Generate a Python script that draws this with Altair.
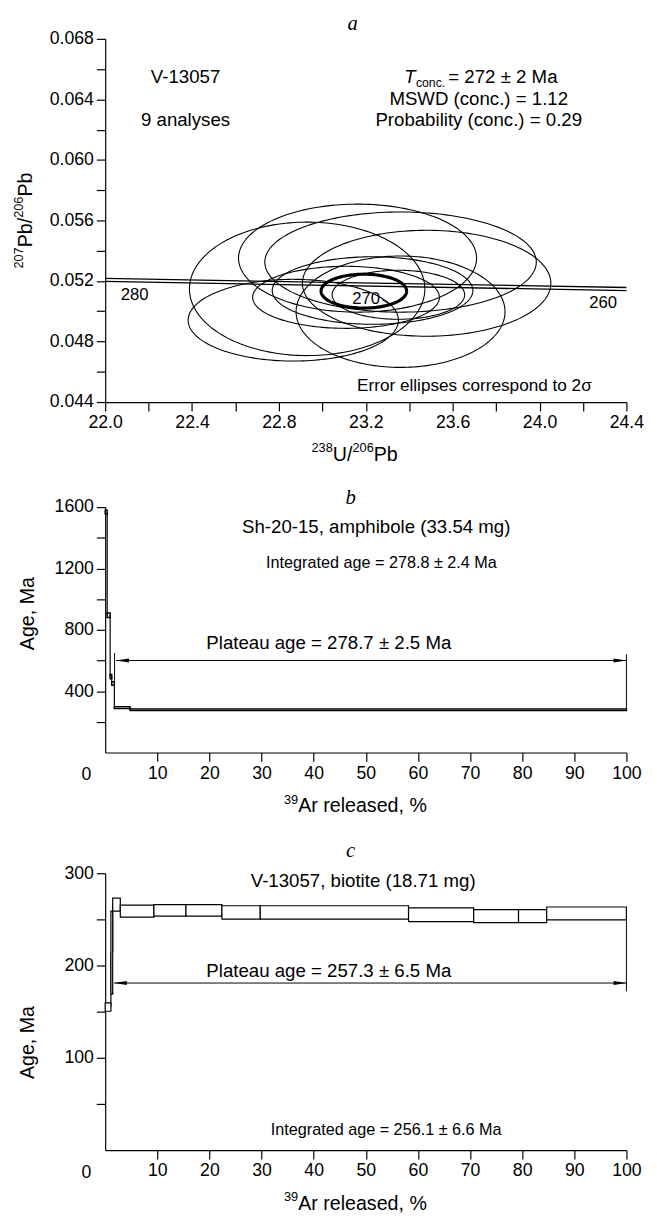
import altair as alt
import numpy as np
import pandas as pd

FONT = "Liberation Sans"
SERIF = "Liberation Serif"

# ---------------- Panel a : U-Pb Tera-Wasserburg concordia ----------------
ell_cx = [23.162, 23.360, 22.930, 23.480, 23.360, 22.866, 23.109, 23.231, 23.350]
ell_cy = [0.05351, 0.05325, 0.05148, 0.05185, 0.04997, 0.04941, 0.05092, 0.05137, 0.05109]
ell_ax = [0.548, 0.625, 0.542, 0.572, 0.481, 0.484, 0.430, 0.462, 0.305]
ell_by = [0.00357, 0.00331, 0.00441, 0.00350, 0.00368, 0.00270, 0.00205, 0.00223, 0.00162]
conc_cx, conc_cy, conc_ax, conc_by = 23.191, 0.05133, 0.197, 0.00112
concordia_x = [22.0, 24.4]
concordia_hi = [0.05217, 0.05157]
concordia_lo = [0.05197, 0.05137]
age_labels = ["280", "270", "260"]
age_label_x = [22.136, 23.202, 24.293]
age_label_y = [0.0511, 0.05083, 0.05055]
a_x_ticks = [22.0, 22.2, 22.4, 22.6, 22.8, 23.0, 23.2, 23.4, 23.6, 23.8, 24.0, 24.2, 24.4]
a_y_ticks = [0.044, 0.046, 0.048, 0.050, 0.052, 0.054, 0.056, 0.058, 0.060, 0.062, 0.064, 0.066, 0.068]

# ---------------- Panel b : amphibole Ar-Ar spectrum ----------------
b_cum = [0, 0.38, 0.95, 1.26, 1.76, 4.77, 100]
b_age = [1568, 895, 495, 450, 292, 278]
b_err = [12, 15, 14, 12, 6, 5]

# ---------------- Panel c : biotite Ar-Ar spectrum ----------------
c_cum = [0, 1.1, 1.44, 2.9, 9.35, 15.5, 22.4, 29.75, 58.2, 70.7, 79.3, 84.7, 100]
c_age = [155, 214, 266, 259, 259.8, 259.8, 257.5, 257.5, 255, 253.5, 253.5, 256.4]
c_err = [4.6, 45, 7, 6.5, 6.2, 6.2, 7.3, 7.3, 7.4, 7, 7, 7]

ar_x_ticks = [10, 20, 30, 40, 50, 60, 70, 80, 90, 100]
b_y_ticks = [200, 400, 600, 800, 1000, 1200, 1400, 1600]
c_y_ticks = [50, 100, 150, 200, 250, 300]

W = 531
HA, HB, HC = 370, 250, 282


def axis(values, expr, title, **kw):
    return alt.Axis(values=values, labelExpr=expr, title=title, grid=False,
                    domainColor="black", domainWidth=1.2, tickColor="black", tickWidth=1.2,
                    tickSize=9, labelFont=FONT, labelFontSize=18, labelColor="black",
                    labelPadding=3, labelOverlap=False, labelFlush=False,
                    titleFont=FONT, titleFontSize=20, titleFontWeight="normal",
                    titleColor="black", **kw)


def text_layer(df, xenc, yenc, size=19, **mk):
    opts = dict(font=FONT, fontSize=size, color="black", baseline="middle")
    opts.update(mk)
    return alt.Chart(df).mark_text(**opts).encode(x=xenc, y=yenc, text="t:N")


def piece(x, y, t, xenc, yenc, size, dx, dy, angle=0):
    return alt.Chart(pd.DataFrame({"x": [x], "y": [y], "t": [t]})).mark_text(
        font=FONT, fontSize=size, color="black", baseline="middle", align="left",
        dx=dx, dy=dy, angle=angle).encode(x=xenc, y=yenc, text="t:N")


# ================= Panel a =================
ax_a_x = axis(a_x_ticks, "round(datum.value*10) % 4 == 0 ? format(datum.value, '.1f') : ''", None)
ax_a_y = axis(a_y_ticks, "round(datum.value*1000) % 4 == 0 ? format(datum.value, '.3f') : ''", None)
XA = alt.X("x:Q", scale=alt.Scale(domain=[22.0, 24.4], nice=False, zero=False), axis=ax_a_x)
YA = alt.Y("y:Q", scale=alt.Scale(domain=[0.044, 0.068], nice=False, zero=False), axis=ax_a_y)


def ellipse_df(ids, cxs, cys, axs, bys, n=180):
    t = np.linspace(0, 2 * np.pi, n)
    frames = []
    for i, cx, cy, a, b in zip(ids, cxs, cys, axs, bys):
        frames.append(pd.DataFrame({"id": i, "k": np.arange(n),
                                    "x": cx + a * np.cos(t), "y": cy + b * np.sin(t)}))
    return pd.concat(frames, ignore_index=True)


ell = ellipse_df(range(len(ell_cx)), ell_cx, ell_cy, ell_ax, ell_by)
conc_ell = ellipse_df([0], [conc_cx], [conc_cy], [conc_ax], [conc_by])
conc_lines = pd.DataFrame({"x": concordia_x * 2, "y": concordia_hi + concordia_lo,
                           "id": ["hi", "hi", "lo", "lo"]})

ax_title_x = 23.149   # centre of the x-axis title (data units)
a_layers = [
    alt.Chart(conc_lines).mark_line(color="black", strokeWidth=1.3).encode(x=XA, y=YA, detail="id:N"),
    alt.Chart(ell).mark_line(color="black", strokeWidth=1.1).encode(x=XA, y=YA, detail="id:N", order="k:Q"),
    alt.Chart(conc_ell).mark_line(color="black", strokeWidth=3.2).encode(x=XA, y=YA, detail="id:N", order="k:Q"),
    alt.Chart(pd.DataFrame({"x": [23.275], "y": [0.05077], "x2": [23.318], "y2": [0.05038]}))
       .mark_rule(color="black", strokeWidth=1).encode(x=XA, y=YA, x2="x2:Q", y2="y2:Q"),
    text_layer(pd.DataFrame({"x": age_label_x, "y": age_label_y, "t": age_labels}), XA, YA, size=17),
    text_layer(pd.DataFrame({"x": [22.37, 22.37], "y": [0.0655, 0.0626], "t": ["V-13057", "9 analyses"]}), XA, YA),
    text_layer(pd.DataFrame({"x": [23.72, 23.72], "y": [0.06405, 0.0626],
                             "t": ["MSWD (conc.) = 1.12", "Probability (conc.) = 0.29"]}), XA, YA),
    alt.Chart(pd.DataFrame({"x": [23.72], "y": [0.0655], "t": ["T"]})).mark_text(
        font=FONT, fontSize=19, fontStyle="italic", color="black", baseline="middle", align="left", dx=-76
    ).encode(x=XA, y=YA, text="t:N"),
    piece(23.72, 0.0655, "conc.", XA, YA, 12.5, -64, 6),
    piece(23.72, 0.0655, "= 272 ± 2 Ma", XA, YA, 19, -31, 0),
    text_layer(pd.DataFrame({"x": [23.70], "y": [0.04504], "t": ["Error ellipses correspond to 2σ"]}), XA, YA, size=17.5),
    alt.Chart(pd.DataFrame({"x": [23.14], "y": [0.068], "t": ["a"]})).mark_text(
        font=SERIF, fontSize=21, fontStyle="italic", color="black", baseline="alphabetic", dy=-9
    ).encode(x=XA, y=YA, text="t:N"),
    # x-axis title  238U/206Pb
    piece(ax_title_x, 0.044, "238", XA, YA, 13, -44, 47),
    piece(ax_title_x, 0.044, "U/", XA, YA, 20, -22.3, 54),
    piece(ax_title_x, 0.044, "206", XA, YA, 13, -2.3, 47),
    piece(ax_title_x, 0.044, "Pb", XA, YA, 20, 19.4, 54),
    # y-axis title  207Pb/206Pb (rotated)
    piece(22.0, 0.056, "207", XA, YA, 13, -49, -88, 270),
    piece(22.0, 0.056, "Pb/", XA, YA, 20, -27.3, -81, 270),
    piece(22.0, 0.056, "206", XA, YA, 13, 2.7, -88, 270),
    piece(22.0, 0.056, "Pb", XA, YA, 20, 24.4, -81, 270),
]
panel_a = alt.layer(*a_layers).properties(width=W, height=HA)


# ================= Ar-Ar panels =================
def spectrum_panel(cum, age, err, ymax, yticks, yexpr, H, ytitleY, texts, integ, plateau,
                   arrow_y, arrow_x0, lbar, rbar, letter, letter_dy, box_stroke):
    ax_x = axis(ar_x_ticks, "format(datum.value, 'd')", None)
    ax_y = axis(yticks, yexpr, "Age, Ma", titleX=-79, titleY=ytitleY,
                titleBaseline="middle", titleAlign="center")
    X = alt.X("x:Q", scale=alt.Scale(domain=[0, 100], nice=False, zero=False), axis=ax_x)
    Y = alt.Y("y:Q", scale=alt.Scale(domain=[0, ymax], nice=False, zero=False), axis=ax_y)
    boxes = pd.DataFrame({"x": cum[:-1], "x2": cum[1:],
                          "y": [a - e for a, e in zip(age, err)],
                          "y2": [a + e for a, e in zip(age, err)]})
    conn = pd.DataFrame({"x": cum[1:-1], "y": age[:-1], "y2": age[1:]})
    bars = pd.DataFrame({"x": [lbar[0], 100], "y": [lbar[1], rbar[0]], "y2": [lbar[2], rbar[1]]})
    arrow = pd.DataFrame({"x": [arrow_x0], "x2": [100], "y": [arrow_y]})
    head_l = pd.DataFrame({"x": [arrow_x0], "y": [arrow_y]})
    head_r = pd.DataFrame({"x": [100], "y": [arrow_y]})
    tx = 48.0  # centre of the x-axis title (% units)
    layers = [
        alt.Chart(conn).mark_rule(color="black", strokeWidth=1.2).encode(x=X, y=Y, y2="y2:Q"),
        alt.Chart(boxes).mark_rect(fill="white", stroke="black", strokeWidth=box_stroke).encode(
            x=X, x2="x2:Q", y=Y, y2="y2:Q"),
        alt.Chart(bars).mark_rule(color="black", strokeWidth=1).encode(x=X, y=Y, y2="y2:Q"),
        alt.Chart(arrow).mark_rule(color="black", strokeWidth=1).encode(x=X, x2="x2:Q", y=Y),
        alt.Chart(head_l).mark_point(shape="M0,0L2,-0.31L2,0.31Z", filled=True, size=170,
                                     color="black", opacity=1).encode(x=X, y=Y),
        alt.Chart(head_r).mark_point(shape="M0,0L-2,-0.31L-2,0.31Z", filled=True, size=170,
                                     color="black", opacity=1).encode(x=X, y=Y),
        text_layer(pd.DataFrame(texts), X, Y),
        text_layer(pd.DataFrame({"x": [integ[0]], "y": [integ[1]], "t": [integ[2]]}), X, Y, size=16.5),
        text_layer(pd.DataFrame({"x": [plateau[0]], "y": [plateau[1]], "t": [plateau[2]]}), X, Y),
        alt.Chart(pd.DataFrame({"x": [0], "y": [0], "t": ["0"]})).mark_text(
            font=FONT, fontSize=18, color="black", baseline="middle", dx=-19, dy=23
        ).encode(x=X, y=Y, text="t:N"),
        alt.Chart(pd.DataFrame({"x": [47.1], "y": [ymax], "t": [letter]})).mark_text(
            font=SERIF, fontSize=21, fontStyle="italic", color="black", baseline="alphabetic", dy=letter_dy
        ).encode(x=X, y=Y, text="t:N"),
        piece(tx, 0, "39", X, Y, 13, -72.8, 48),
        piece(tx, 0, "Ar released, %", X, Y, 20, -58.3, 55),
    ]
    return alt.layer(*layers).properties(width=W, height=H)


panel_b = spectrum_panel(
    b_cum, b_age, b_err, 1600, b_y_ticks, "datum.value % 400 == 0 ? format(datum.value, 'd') : ''",
    HB, 108,
    {"x": [52.0], "y": [1470], "t": ["Sh-20-15, amphibole (33.54 mg)"]},
    (53.0, 1232, "Integrated age = 278.8 ± 2.4 Ma"),
    (42.9, 713, "Plateau age = 278.7 ± 2.5 Ma"),
    600, 2.1, (1.8, 455, 648), (283, 640), "b", -3, 1.5)

panel_c = spectrum_panel(
    c_cum, c_age, c_err, 300, c_y_ticks, "datum.value % 100 == 0 ? format(datum.value, 'd') : ''",
    HC, 172,
    {"x": [49.5], "y": [292], "t": ["V-13057, biotite (18.71 mg)"]},
    (53.9, 22, "Integrated age = 256.1 ± 6.6 Ma"),
    (42.9, 194, "Plateau age = 257.3 ± 6.5 Ma"),
    181, 1.7, (1.44, 169, 172), (249, 172), "c", -17, 1.2)

lower = alt.vconcat(panel_b, panel_c, spacing=123, bounds="flush")
chart = alt.vconcat(panel_a, lower, spacing=107, bounds="flush").configure_view(
    stroke=None).properties(padding={"left": 5, "top": -6, "right": 5, "bottom": 5})

chart.save("out.html", embed_options={"renderer": "svg", "actions": False})
